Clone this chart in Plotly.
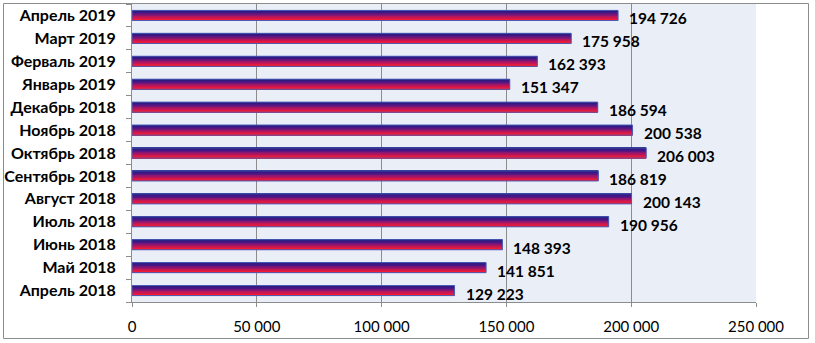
import plotly.graph_objects as go

categories = ["Апрель 2018", "Май 2018", "Июнь 2018", "Июль 2018", "Август 2018",
              "Сентябрь 2018", "Октябрь 2018", "Ноябрь 2018", "Декабрь 2018",
              "Январь 2019", "Ферваль 2019", "Март 2019", "Апрель 2019"]
values = [129223, 141851, 148393, 190956, 200143, 186819, 206003, 200538,
          186594, 151347, 162393, 175958, 194726]
x_ticks = [0, 50000, 100000, 150000, 200000, 250000]
x_tick_labels = ["0", "50 000", "100 000", "150 000", "200 000", "250 000"]

FONT = "Lato, 'Noto Sans', sans-serif"

# gradient stops top -> bottom
stops = [(0.0, (30, 26, 120)), (0.3, (70, 22, 135)), (0.65, (170, 22, 100)), (1.0, (245, 26, 50))]

def grad(t):
    for (t0, c0), (t1, c1) in zip(stops[:-1], stops[1:]):
        if t <= t1:
            f = (t - t0) / (t1 - t0) if t1 > t0 else 0
            return "rgb(%d,%d,%d)" % tuple(round(a + (b - a) * f) for a, b in zip(c0, c1))
    return "rgb(%d,%d,%d)" % stops[-1][1]

BAR_W = 0.44
N = 14
fig = go.Figure()
sw = BAR_W / N
for i in range(N):
    t = i / (N - 1)
    off = BAR_W / 2 - (i + 1) * sw
    fig.add_trace(go.Bar(
        y=categories, x=values, orientation="h",
        width=sw * 1.05, offset=off,
        marker=dict(color=grad(t), line=dict(width=0)),
        hoverinfo="skip", showlegend=False,
    ))

fig.add_trace(go.Bar(
    y=categories, x=values, orientation="h",
    width=BAR_W, offset=-BAR_W / 2,
    marker=dict(color="rgba(0,0,0,0)", line=dict(color="#4a5cb8", width=1)),
    showlegend=False,
))

for c, v in zip(categories, values):
    fig.add_annotation(x=v, y=c, text=f"{v:,}".replace(",", " "),
                       showarrow=False, xanchor="left", xshift=9, yshift=-3,
                       font=dict(family=FONT, size=15.5, color="#000000", weight="bold"))

fig.update_layout(
    width=815, height=343,
    margin=dict(l=132, r=59, t=4, b=41),
    barmode="overlay",
    paper_bgcolor="white",
    plot_bgcolor="#e9eef7",
    font=dict(family=FONT, color="#000000"),
    xaxis=dict(range=[0, 250000], tickvals=x_ticks, ticktext=x_tick_labels,
               showgrid=True, gridcolor="#8c8c8c", gridwidth=1,
               showline=True, linecolor="#8c8c8c", linewidth=1,
               ticks="outside", ticklen=4, tickcolor="#8c8c8c",
               ticklabelstandoff=7,
               tickfont=dict(family=FONT, size=15, color="#000000"),
               zeroline=False, fixedrange=True),
    yaxis=dict(showgrid=False, showline=True, linecolor="#8c8c8c", linewidth=1,
               ticks="outside", ticklen=5, tickcolor="#8c8c8c", tickson="boundaries",
               ticklabelstandoff=12,
               tickfont=dict(family=FONT, size=16, color="#000000", weight="bold"),
               range=[-0.5, len(categories) - 0.5], fixedrange=True),
    shapes=[dict(type="rect", xref="paper", yref="paper",
                 x0=(3.5 - 132) / 624, x1=(808.5 - 132) / 624,
                 y0=(302 - 338.5) / 298, y1=(302 - 3.5) / 298,
                 line=dict(color="#8c8c8c", width=1), fillcolor="rgba(0,0,0,0)",
                 layer="below")],
)

fig.write_html("out.html")
